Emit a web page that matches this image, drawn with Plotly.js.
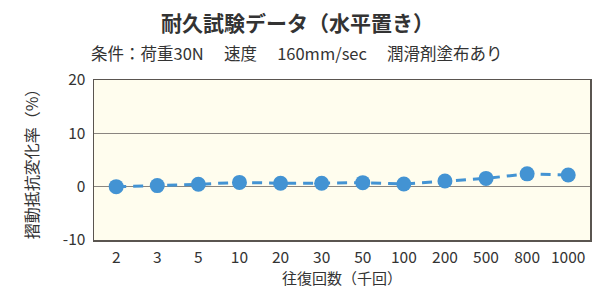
<!DOCTYPE html>
<html><head><meta charset="utf-8">
<script src="https://cdn.plot.ly/plotly-3.0.1.min.js"></script>
<style>html,body{margin:0;padding:0;background:#fff;}#chart{width:593px;height:292px;}</style>
</head><body><div id="chart"></div>
<script>
const categories = ["2","3","5","10","20","30","50","100","200","500","800","1000"];
const values = [0.0, 0.2, 0.45, 0.8, 0.65, 0.65, 0.75, 0.5, 1.05, 1.55, 2.4, 2.2];
const yTicks = [-10, 0, 10, 20];
const titleText = "耐久試験データ（水平置き）";
const subtitleText = "条件：荷重30N　 速度　 160mm/sec　 潤滑剤塗布あり";
const xTitle = "往復回数（千回）";
const yTitle = "摺動抵抗変化率（%）";

const font = "'Noto Sans CJK JP', 'Noto Sans', sans-serif";
const trace = {
  x: categories, y: values, type: "scatter", mode: "lines+markers",
  line: {color: "#4393d3", width: 3, dash: "10px,7px"},
  marker: {color: "#4393d3", size: 15},
  hoverinfo: "none"
};
const layout = {
  width: 593, height: 292,
  margin: {l: 93.5, r: 3, t: 80, b: 52},
  paper_bgcolor: "#ffffff", plot_bgcolor: "#fffdee",
  font: {family: font, color: "#333333", size: 15},
  showlegend: false,
  xaxis: {
    type: "category", range: [-0.54, 11.53],
    showgrid: false, showline: true, mirror: true, linecolor: "#5a5550", linewidth: 1.5,
    ticks: "outside", ticklen: 3, tickcolor: "rgba(0,0,0,0)", tickfont: {size: 15.5, color: "#333"},
    title: {text: xTitle, font: {size: 15, color: "#333"}, standoff: 6},
    fixedrange: true
  },
  yaxis: {
    range: [-10, 20], tickvals: yTicks, ticktext: yTicks.map(String),
    showgrid: true, gridcolor: "#8a8580", gridwidth: 1.2,
    zeroline: true, zerolinecolor: "#8a8580", zerolinewidth: 1.5,
    showline: true, mirror: true, linecolor: "#5a5550", linewidth: 1.5,
    ticks: "outside", ticklen: 4, tickcolor: "rgba(0,0,0,0)", tickfont: {size: 15.5, color: "#333"},
    title: {text: yTitle, font: {size: 16, color: "#333"}, standoff: 20},
    fixedrange: true
  },
  annotations: [
    {text: "<b>" + titleText + "</b>", xref: "paper", yref: "paper", x: 0.41, y: 1, yshift: 58,
     xanchor: "center", yanchor: "middle", showarrow: false, font: {size: 21, color: "#333"}},
    {text: subtitleText, xref: "paper", yref: "paper", x: 0.41, y: 1, yshift: 27,
     xanchor: "center", yanchor: "middle", showarrow: false, font: {size: 16.5, color: "#333"}}
  ]
};
Plotly.newPlot("chart", [trace], layout, {displayModeBar: false, staticPlot: true});
</script></body></html>
